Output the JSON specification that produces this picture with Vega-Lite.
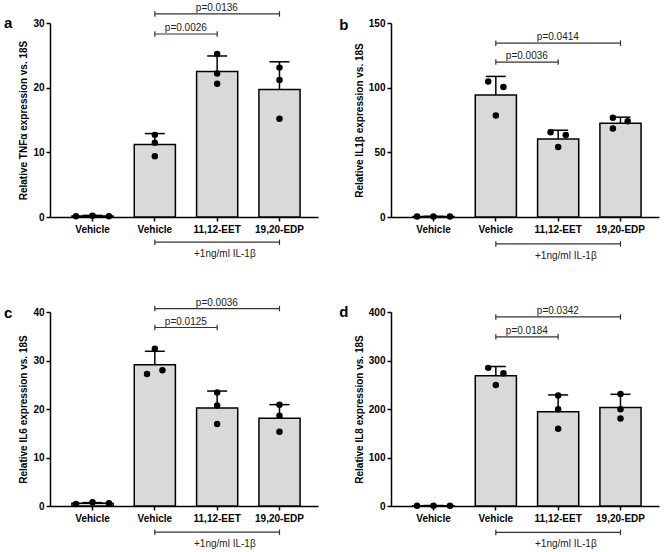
{
  "$schema": "https://vega.github.io/schema/vega-lite/v6.json",
  "padding": {"left": 3, "top": 2, "right": 5, "bottom": 3},
  "background": "white",
  "datasets": {
    "bars": [
      {"panel": "a", "group": "Vehicle", "mean": 0.15, "upper": 0.25},
      {"panel": "a", "group": "Vehicle (IL-1β)", "mean": 11.2, "upper": 12.9},
      {"panel": "a", "group": "11,12-EET", "mean": 22.5, "upper": 24.9},
      {"panel": "a", "group": "19,20-EDP", "mean": 19.7, "upper": 24.0},
      {"panel": "b", "group": "Vehicle", "mean": 0.3, "upper": 0.5},
      {"panel": "b", "group": "Vehicle (IL-1β)", "mean": 94.4, "upper": 108.7},
      {"panel": "b", "group": "11,12-EET", "mean": 60.3, "upper": 67.1},
      {"panel": "b", "group": "19,20-EDP", "mean": 72.5, "upper": 77.2},
      {"panel": "c", "group": "Vehicle", "mean": 0.57, "upper": 0.7},
      {"panel": "c", "group": "Vehicle (IL-1β)", "mean": 29.1, "upper": 31.9},
      {"panel": "c", "group": "11,12-EET", "mean": 20.2, "upper": 23.7},
      {"panel": "c", "group": "19,20-EDP", "mean": 18.1, "upper": 20.9},
      {"panel": "d", "group": "Vehicle", "mean": 0.5, "upper": 1},
      {"panel": "d", "group": "Vehicle (IL-1β)", "mean": 268.5, "upper": 287.6},
      {"panel": "d", "group": "11,12-EET", "mean": 194.2, "upper": 229},
      {"panel": "d", "group": "19,20-EDP", "mean": 203, "upper": 230.3}
    ],
    "dots": [
      {"panel": "a", "group": "Vehicle", "value": 0.1, "jitter": -0.8},
      {"panel": "a", "group": "Vehicle", "value": 0.2, "jitter": 0},
      {"panel": "a", "group": "Vehicle", "value": 0.1, "jitter": 0.8},
      {"panel": "a", "group": "Vehicle (IL-1β)", "value": 12.7, "jitter": 0},
      {"panel": "a", "group": "Vehicle (IL-1β)", "value": 11.5, "jitter": 0},
      {"panel": "a", "group": "Vehicle (IL-1β)", "value": 9.4, "jitter": 0},
      {"panel": "a", "group": "11,12-EET", "value": 25.2, "jitter": 0},
      {"panel": "a", "group": "11,12-EET", "value": 22.2, "jitter": 0},
      {"panel": "a", "group": "11,12-EET", "value": 20.6, "jitter": 0},
      {"panel": "a", "group": "19,20-EDP", "value": 23.1, "jitter": 0},
      {"panel": "a", "group": "19,20-EDP", "value": 21.2, "jitter": 0},
      {"panel": "a", "group": "19,20-EDP", "value": 15.2, "jitter": 0},
      {"panel": "b", "group": "Vehicle", "value": 0.3, "jitter": -0.8},
      {"panel": "b", "group": "Vehicle", "value": 0.3, "jitter": 0},
      {"panel": "b", "group": "Vehicle", "value": 0.3, "jitter": 0.8},
      {"panel": "b", "group": "Vehicle (IL-1β)", "value": 104.8, "jitter": -0.37},
      {"panel": "b", "group": "Vehicle (IL-1β)", "value": 100.6, "jitter": 0.37},
      {"panel": "b", "group": "Vehicle (IL-1β)", "value": 78.5, "jitter": 0},
      {"panel": "b", "group": "11,12-EET", "value": 65.5, "jitter": -0.37},
      {"panel": "b", "group": "11,12-EET", "value": 63.4, "jitter": 0.37},
      {"panel": "b", "group": "11,12-EET", "value": 54.1, "jitter": 0},
      {"panel": "b", "group": "19,20-EDP", "value": 76.7, "jitter": -0.37},
      {"panel": "b", "group": "19,20-EDP", "value": 74.1, "jitter": 0.35},
      {"panel": "b", "group": "19,20-EDP", "value": 68.4, "jitter": -0.37},
      {"panel": "c", "group": "Vehicle", "value": 0.4, "jitter": -0.8},
      {"panel": "c", "group": "Vehicle", "value": 0.76, "jitter": 0},
      {"panel": "c", "group": "Vehicle", "value": 0.55, "jitter": 0.8},
      {"panel": "c", "group": "Vehicle (IL-1β)", "value": 32.4, "jitter": 0},
      {"panel": "c", "group": "Vehicle (IL-1β)", "value": 27.2, "jitter": -0.38},
      {"panel": "c", "group": "Vehicle (IL-1β)", "value": 28.0, "jitter": 0.37},
      {"panel": "c", "group": "11,12-EET", "value": 23.4, "jitter": 0},
      {"panel": "c", "group": "11,12-EET", "value": 20.7, "jitter": 0},
      {"panel": "c", "group": "11,12-EET", "value": 16.9, "jitter": 0},
      {"panel": "c", "group": "19,20-EDP", "value": 20.9, "jitter": 0},
      {"panel": "c", "group": "19,20-EDP", "value": 18.6, "jitter": 0},
      {"panel": "c", "group": "19,20-EDP", "value": 15.3, "jitter": 0},
      {"panel": "d", "group": "Vehicle", "value": 0.5, "jitter": -0.8},
      {"panel": "d", "group": "Vehicle", "value": 0.5, "jitter": 0},
      {"panel": "d", "group": "Vehicle", "value": 0.5, "jitter": 0.8},
      {"panel": "d", "group": "Vehicle (IL-1β)", "value": 284.8, "jitter": -0.37},
      {"panel": "d", "group": "Vehicle (IL-1β)", "value": 273.9, "jitter": 0.37},
      {"panel": "d", "group": "Vehicle (IL-1β)", "value": 249.4, "jitter": 0},
      {"panel": "d", "group": "11,12-EET", "value": 227.6, "jitter": 0},
      {"panel": "d", "group": "11,12-EET", "value": 199.7, "jitter": 0},
      {"panel": "d", "group": "11,12-EET", "value": 159.5, "jitter": 0},
      {"panel": "d", "group": "19,20-EDP", "value": 231.0, "jitter": 0},
      {"panel": "d", "group": "19,20-EDP", "value": 199.7, "jitter": 0},
      {"panel": "d", "group": "19,20-EDP", "value": 180.6, "jitter": 0}
    ],
    "brackets": [
      {"panel": "a", "from": "Vehicle (IL-1β)", "to": "11,12-EET", "y": 28.3, "label": "p=0.0026", "span": 1},
      {"panel": "a", "from": "Vehicle (IL-1β)", "to": "19,20-EDP", "y": 31.4, "label": "p=0.0136", "span": 2},
      {"panel": "a", "from": "Vehicle (IL-1β)", "to": "19,20-EDP", "y": -3.9, "label": "+1ng/ml IL-1β", "span": 0},
      {"panel": "b", "from": "Vehicle (IL-1β)", "to": "11,12-EET", "y": 119.8, "label": "p=0.0036", "span": 1},
      {"panel": "b", "from": "Vehicle (IL-1β)", "to": "19,20-EDP", "y": 134.4, "label": "p=0.0414", "span": 2},
      {"panel": "b", "from": "Vehicle (IL-1β)", "to": "19,20-EDP", "y": -20.8, "label": "+1ng/ml IL-1β", "span": 0},
      {"panel": "c", "from": "Vehicle (IL-1β)", "to": "11,12-EET", "y": 36.8, "label": "p=0.0125", "span": 1},
      {"panel": "c", "from": "Vehicle (IL-1β)", "to": "19,20-EDP", "y": 40.7, "label": "p=0.0036", "span": 2},
      {"panel": "c", "from": "Vehicle (IL-1β)", "to": "19,20-EDP", "y": -5.4, "label": "+1ng/ml IL-1β", "span": 0},
      {"panel": "d", "from": "Vehicle (IL-1β)", "to": "11,12-EET", "y": 348.9, "label": "p=0.0184", "span": 1},
      {"panel": "d", "from": "Vehicle (IL-1β)", "to": "19,20-EDP", "y": 389.8, "label": "p=0.0342", "span": 2},
      {"panel": "d", "from": "Vehicle (IL-1β)", "to": "19,20-EDP", "y": -54.5, "label": "+1ng/ml IL-1β", "span": 0}
    ]
  },
  "columns": 2,
  "spacing": {"column": 21, "row": 36},
  "concat": [
    {
      "width": 268, "height": 194,
      "title": {"text": "a", "offset": -28},
      "resolve": {"scale": {"xOffset": "independent"}},
      "layer": [
        {"data": {"name": "bars"}, "transform": [{"filter": "datum.panel == 'a'"}],
         "mark": {"type": "bar", "fill": "#d9d9d9", "stroke": "black", "strokeWidth": 1.5},
         "encoding": {
           "x": {"field": "group", "type": "nominal", "scale": {"domain": ["Vehicle", "Vehicle (IL-1β)", "11,12-EET", "19,20-EDP"], "paddingInner": 0.34, "paddingOuter": 0.32, "align": 0.55}, "axis": {"title": null, "labelAngle": 0, "labelExpr": "datum.value == 'Vehicle (IL-1β)' ? 'Vehicle' : datum.value"}},
           "y": {"field": "mean", "type": "quantitative", "scale": {"domain": [0, 30], "nice": false}, "axis": {"title": "Relative TNFα expression vs. 18S", "values": [0, 10, 20, 30]}}}},
        {"data": {"name": "bars"}, "transform": [{"filter": "datum.panel == 'a'"}],
         "mark": {"type": "rule", "color": "black", "strokeWidth": 1.5},
         "encoding": {
           "x": {"field": "group", "type": "nominal", "scale": {"domain": ["Vehicle", "Vehicle (IL-1β)", "11,12-EET", "19,20-EDP"], "paddingInner": 0.34, "paddingOuter": 0.32, "align": 0.55}},
           "y": {"field": "mean", "type": "quantitative", "scale": {"domain": [0, 30], "nice": false}},
           "y2": {"field": "upper"}}},
        {"data": {"name": "bars"}, "transform": [{"filter": "datum.panel == 'a'"}],
         "mark": {"type": "tick", "orient": "horizontal", "size": 20, "thickness": 1.5, "color": "black", "opacity": 1},
         "encoding": {
           "x": {"field": "group", "type": "nominal", "scale": {"domain": ["Vehicle", "Vehicle (IL-1β)", "11,12-EET", "19,20-EDP"], "paddingInner": 0.34, "paddingOuter": 0.32, "align": 0.55}},
           "y": {"field": "upper", "type": "quantitative", "scale": {"domain": [0, 30], "nice": false}}}},
        {"data": {"name": "dots"}, "transform": [{"filter": "datum.panel == 'a'"}],
         "mark": {"type": "circle", "size": 42, "color": "black", "opacity": 1},
         "encoding": {
           "x": {"field": "group", "type": "nominal", "scale": {"domain": ["Vehicle", "Vehicle (IL-1β)", "11,12-EET", "19,20-EDP"], "paddingInner": 0.34, "paddingOuter": 0.32, "align": 0.55}},
           "xOffset": {"field": "jitter", "type": "quantitative", "scale": {"domain": [-1, 1]}},
           "y": {"field": "value", "type": "quantitative", "scale": {"domain": [0, 30], "nice": false}}}},
        {"data": {"name": "brackets"}, "transform": [{"filter": "datum.panel == 'a'"}],
         "mark": {"type": "rule", "color": "#333333", "strokeWidth": 1.2},
         "encoding": {
           "x": {"field": "from", "type": "nominal", "scale": {"domain": ["Vehicle", "Vehicle (IL-1β)", "11,12-EET", "19,20-EDP"], "paddingInner": 0.34, "paddingOuter": 0.32, "align": 0.55}},
           "x2": {"field": "to"},
           "y": {"field": "y", "type": "quantitative", "scale": {"domain": [0, 30], "nice": false}}}},
        {"data": {"name": "brackets"}, "transform": [{"filter": "datum.panel == 'a'"}],
         "mark": {"type": "point", "shape": "M0,-1L0,1", "size": 30, "filled": false, "color": "#333333", "strokeWidth": 1.2, "opacity": 1},
         "encoding": {
           "x": {"field": "from", "type": "nominal", "scale": {"domain": ["Vehicle", "Vehicle (IL-1β)", "11,12-EET", "19,20-EDP"], "paddingInner": 0.34, "paddingOuter": 0.32, "align": 0.55}},
           "y": {"field": "y", "type": "quantitative", "scale": {"domain": [0, 30], "nice": false}}}},
        {"data": {"name": "brackets"}, "transform": [{"filter": "datum.panel == 'a'"}],
         "mark": {"type": "point", "shape": "M0,-1L0,1", "size": 30, "filled": false, "color": "#333333", "strokeWidth": 1.2, "opacity": 1},
         "encoding": {
           "x": {"field": "to", "type": "nominal", "scale": {"domain": ["Vehicle", "Vehicle (IL-1β)", "11,12-EET", "19,20-EDP"], "paddingInner": 0.34, "paddingOuter": 0.32, "align": 0.55}},
           "y": {"field": "y", "type": "quantitative", "scale": {"domain": [0, 30], "nice": false}}}},
        {"data": {"name": "brackets"}, "transform": [{"filter": "datum.panel == 'a' && datum.span == 1"}],
         "mark": {"type": "text", "baseline": "bottom", "dy": -1, "dx": 31, "fontSize": 10, "color": "#222222"},
         "encoding": {
           "x": {"field": "from", "type": "nominal", "scale": {"domain": ["Vehicle", "Vehicle (IL-1β)", "11,12-EET", "19,20-EDP"], "paddingInner": 0.34, "paddingOuter": 0.32, "align": 0.55}},
           "y": {"field": "y", "type": "quantitative", "scale": {"domain": [0, 30], "nice": false}},
           "text": {"field": "label"}}},
        {"data": {"name": "brackets"}, "transform": [{"filter": "datum.panel == 'a' && datum.span == 2"}],
         "mark": {"type": "text", "baseline": "bottom", "dy": -1, "dx": 62, "fontSize": 10, "color": "#222222"},
         "encoding": {
           "x": {"field": "from", "type": "nominal", "scale": {"domain": ["Vehicle", "Vehicle (IL-1β)", "11,12-EET", "19,20-EDP"], "paddingInner": 0.34, "paddingOuter": 0.32, "align": 0.55}},
           "y": {"field": "y", "type": "quantitative", "scale": {"domain": [0, 30], "nice": false}},
           "text": {"field": "label"}}},
        {"data": {"name": "brackets"}, "transform": [{"filter": "datum.panel == 'a' && datum.span == 0"}],
         "mark": {"type": "text", "baseline": "top", "dy": 7, "dx": 70, "fontSize": 10, "color": "#222222"},
         "encoding": {
           "x": {"field": "from", "type": "nominal", "scale": {"domain": ["Vehicle", "Vehicle (IL-1β)", "11,12-EET", "19,20-EDP"], "paddingInner": 0.34, "paddingOuter": 0.32, "align": 0.55}},
           "y": {"field": "y", "type": "quantitative", "scale": {"domain": [0, 30], "nice": false}},
           "text": {"field": "label"}}}
      ]
    },
    {
      "width": 268, "height": 194,
      "title": {"text": "b", "offset": -15},
      "resolve": {"scale": {"xOffset": "independent"}},
      "layer": [
        {"data": {"name": "bars"}, "transform": [{"filter": "datum.panel == 'b'"}],
         "mark": {"type": "bar", "fill": "#d9d9d9", "stroke": "black", "strokeWidth": 1.5},
         "encoding": {
           "x": {"field": "group", "type": "nominal", "scale": {"domain": ["Vehicle", "Vehicle (IL-1β)", "11,12-EET", "19,20-EDP"], "paddingInner": 0.34, "paddingOuter": 0.32, "align": 0.55}, "axis": {"title": null, "labelAngle": 0, "labelExpr": "datum.value == 'Vehicle (IL-1β)' ? 'Vehicle' : datum.value"}},
           "y": {"field": "mean", "type": "quantitative", "scale": {"domain": [0, 150], "nice": false}, "axis": {"title": "Relative IL1β expression vs. 18S", "values": [0, 50, 100, 150]}}}},
        {"data": {"name": "bars"}, "transform": [{"filter": "datum.panel == 'b'"}],
         "mark": {"type": "rule", "color": "black", "strokeWidth": 1.5},
         "encoding": {
           "x": {"field": "group", "type": "nominal", "scale": {"domain": ["Vehicle", "Vehicle (IL-1β)", "11,12-EET", "19,20-EDP"], "paddingInner": 0.34, "paddingOuter": 0.32, "align": 0.55}},
           "y": {"field": "mean", "type": "quantitative", "scale": {"domain": [0, 150], "nice": false}},
           "y2": {"field": "upper"}}},
        {"data": {"name": "bars"}, "transform": [{"filter": "datum.panel == 'b'"}],
         "mark": {"type": "tick", "orient": "horizontal", "size": 20, "thickness": 1.5, "color": "black", "opacity": 1},
         "encoding": {
           "x": {"field": "group", "type": "nominal", "scale": {"domain": ["Vehicle", "Vehicle (IL-1β)", "11,12-EET", "19,20-EDP"], "paddingInner": 0.34, "paddingOuter": 0.32, "align": 0.55}},
           "y": {"field": "upper", "type": "quantitative", "scale": {"domain": [0, 150], "nice": false}}}},
        {"data": {"name": "dots"}, "transform": [{"filter": "datum.panel == 'b'"}],
         "mark": {"type": "circle", "size": 42, "color": "black", "opacity": 1},
         "encoding": {
           "x": {"field": "group", "type": "nominal", "scale": {"domain": ["Vehicle", "Vehicle (IL-1β)", "11,12-EET", "19,20-EDP"], "paddingInner": 0.34, "paddingOuter": 0.32, "align": 0.55}},
           "xOffset": {"field": "jitter", "type": "quantitative", "scale": {"domain": [-1, 1]}},
           "y": {"field": "value", "type": "quantitative", "scale": {"domain": [0, 150], "nice": false}}}},
        {"data": {"name": "brackets"}, "transform": [{"filter": "datum.panel == 'b'"}],
         "mark": {"type": "rule", "color": "#333333", "strokeWidth": 1.2},
         "encoding": {
           "x": {"field": "from", "type": "nominal", "scale": {"domain": ["Vehicle", "Vehicle (IL-1β)", "11,12-EET", "19,20-EDP"], "paddingInner": 0.34, "paddingOuter": 0.32, "align": 0.55}},
           "x2": {"field": "to"},
           "y": {"field": "y", "type": "quantitative", "scale": {"domain": [0, 150], "nice": false}}}},
        {"data": {"name": "brackets"}, "transform": [{"filter": "datum.panel == 'b'"}],
         "mark": {"type": "point", "shape": "M0,-1L0,1", "size": 30, "filled": false, "color": "#333333", "strokeWidth": 1.2, "opacity": 1},
         "encoding": {
           "x": {"field": "from", "type": "nominal", "scale": {"domain": ["Vehicle", "Vehicle (IL-1β)", "11,12-EET", "19,20-EDP"], "paddingInner": 0.34, "paddingOuter": 0.32, "align": 0.55}},
           "y": {"field": "y", "type": "quantitative", "scale": {"domain": [0, 150], "nice": false}}}},
        {"data": {"name": "brackets"}, "transform": [{"filter": "datum.panel == 'b'"}],
         "mark": {"type": "point", "shape": "M0,-1L0,1", "size": 30, "filled": false, "color": "#333333", "strokeWidth": 1.2, "opacity": 1},
         "encoding": {
           "x": {"field": "to", "type": "nominal", "scale": {"domain": ["Vehicle", "Vehicle (IL-1β)", "11,12-EET", "19,20-EDP"], "paddingInner": 0.34, "paddingOuter": 0.32, "align": 0.55}},
           "y": {"field": "y", "type": "quantitative", "scale": {"domain": [0, 150], "nice": false}}}},
        {"data": {"name": "brackets"}, "transform": [{"filter": "datum.panel == 'b' && datum.span == 1"}],
         "mark": {"type": "text", "baseline": "bottom", "dy": -1, "dx": 31, "fontSize": 10, "color": "#222222"},
         "encoding": {
           "x": {"field": "from", "type": "nominal", "scale": {"domain": ["Vehicle", "Vehicle (IL-1β)", "11,12-EET", "19,20-EDP"], "paddingInner": 0.34, "paddingOuter": 0.32, "align": 0.55}},
           "y": {"field": "y", "type": "quantitative", "scale": {"domain": [0, 150], "nice": false}},
           "text": {"field": "label"}}},
        {"data": {"name": "brackets"}, "transform": [{"filter": "datum.panel == 'b' && datum.span == 2"}],
         "mark": {"type": "text", "baseline": "bottom", "dy": -1, "dx": 62, "fontSize": 10, "color": "#222222"},
         "encoding": {
           "x": {"field": "from", "type": "nominal", "scale": {"domain": ["Vehicle", "Vehicle (IL-1β)", "11,12-EET", "19,20-EDP"], "paddingInner": 0.34, "paddingOuter": 0.32, "align": 0.55}},
           "y": {"field": "y", "type": "quantitative", "scale": {"domain": [0, 150], "nice": false}},
           "text": {"field": "label"}}},
        {"data": {"name": "brackets"}, "transform": [{"filter": "datum.panel == 'b' && datum.span == 0"}],
         "mark": {"type": "text", "baseline": "top", "dy": 7, "dx": 70, "fontSize": 10, "color": "#222222"},
         "encoding": {
           "x": {"field": "from", "type": "nominal", "scale": {"domain": ["Vehicle", "Vehicle (IL-1β)", "11,12-EET", "19,20-EDP"], "paddingInner": 0.34, "paddingOuter": 0.32, "align": 0.55}},
           "y": {"field": "y", "type": "quantitative", "scale": {"domain": [0, 150], "nice": false}},
           "text": {"field": "label"}}}
      ]
    },
    {
      "width": 268, "height": 194,
      "title": {"text": "c", "offset": -23},
      "resolve": {"scale": {"xOffset": "independent"}},
      "layer": [
        {"data": {"name": "bars"}, "transform": [{"filter": "datum.panel == 'c'"}],
         "mark": {"type": "bar", "fill": "#d9d9d9", "stroke": "black", "strokeWidth": 1.5},
         "encoding": {
           "x": {"field": "group", "type": "nominal", "scale": {"domain": ["Vehicle", "Vehicle (IL-1β)", "11,12-EET", "19,20-EDP"], "paddingInner": 0.34, "paddingOuter": 0.32, "align": 0.55}, "axis": {"title": null, "labelAngle": 0, "labelExpr": "datum.value == 'Vehicle (IL-1β)' ? 'Vehicle' : datum.value"}},
           "y": {"field": "mean", "type": "quantitative", "scale": {"domain": [0, 40], "nice": false}, "axis": {"title": "Relative IL6 expression vs. 18S", "values": [0, 10, 20, 30, 40]}}}},
        {"data": {"name": "bars"}, "transform": [{"filter": "datum.panel == 'c'"}],
         "mark": {"type": "rule", "color": "black", "strokeWidth": 1.5},
         "encoding": {
           "x": {"field": "group", "type": "nominal", "scale": {"domain": ["Vehicle", "Vehicle (IL-1β)", "11,12-EET", "19,20-EDP"], "paddingInner": 0.34, "paddingOuter": 0.32, "align": 0.55}},
           "y": {"field": "mean", "type": "quantitative", "scale": {"domain": [0, 40], "nice": false}},
           "y2": {"field": "upper"}}},
        {"data": {"name": "bars"}, "transform": [{"filter": "datum.panel == 'c'"}],
         "mark": {"type": "tick", "orient": "horizontal", "size": 20, "thickness": 1.5, "color": "black", "opacity": 1},
         "encoding": {
           "x": {"field": "group", "type": "nominal", "scale": {"domain": ["Vehicle", "Vehicle (IL-1β)", "11,12-EET", "19,20-EDP"], "paddingInner": 0.34, "paddingOuter": 0.32, "align": 0.55}},
           "y": {"field": "upper", "type": "quantitative", "scale": {"domain": [0, 40], "nice": false}}}},
        {"data": {"name": "dots"}, "transform": [{"filter": "datum.panel == 'c'"}],
         "mark": {"type": "circle", "size": 42, "color": "black", "opacity": 1},
         "encoding": {
           "x": {"field": "group", "type": "nominal", "scale": {"domain": ["Vehicle", "Vehicle (IL-1β)", "11,12-EET", "19,20-EDP"], "paddingInner": 0.34, "paddingOuter": 0.32, "align": 0.55}},
           "xOffset": {"field": "jitter", "type": "quantitative", "scale": {"domain": [-1, 1]}},
           "y": {"field": "value", "type": "quantitative", "scale": {"domain": [0, 40], "nice": false}}}},
        {"data": {"name": "brackets"}, "transform": [{"filter": "datum.panel == 'c'"}],
         "mark": {"type": "rule", "color": "#333333", "strokeWidth": 1.2},
         "encoding": {
           "x": {"field": "from", "type": "nominal", "scale": {"domain": ["Vehicle", "Vehicle (IL-1β)", "11,12-EET", "19,20-EDP"], "paddingInner": 0.34, "paddingOuter": 0.32, "align": 0.55}},
           "x2": {"field": "to"},
           "y": {"field": "y", "type": "quantitative", "scale": {"domain": [0, 40], "nice": false}}}},
        {"data": {"name": "brackets"}, "transform": [{"filter": "datum.panel == 'c'"}],
         "mark": {"type": "point", "shape": "M0,-1L0,1", "size": 30, "filled": false, "color": "#333333", "strokeWidth": 1.2, "opacity": 1},
         "encoding": {
           "x": {"field": "from", "type": "nominal", "scale": {"domain": ["Vehicle", "Vehicle (IL-1β)", "11,12-EET", "19,20-EDP"], "paddingInner": 0.34, "paddingOuter": 0.32, "align": 0.55}},
           "y": {"field": "y", "type": "quantitative", "scale": {"domain": [0, 40], "nice": false}}}},
        {"data": {"name": "brackets"}, "transform": [{"filter": "datum.panel == 'c'"}],
         "mark": {"type": "point", "shape": "M0,-1L0,1", "size": 30, "filled": false, "color": "#333333", "strokeWidth": 1.2, "opacity": 1},
         "encoding": {
           "x": {"field": "to", "type": "nominal", "scale": {"domain": ["Vehicle", "Vehicle (IL-1β)", "11,12-EET", "19,20-EDP"], "paddingInner": 0.34, "paddingOuter": 0.32, "align": 0.55}},
           "y": {"field": "y", "type": "quantitative", "scale": {"domain": [0, 40], "nice": false}}}},
        {"data": {"name": "brackets"}, "transform": [{"filter": "datum.panel == 'c' && datum.span == 1"}],
         "mark": {"type": "text", "baseline": "bottom", "dy": -1, "dx": 31, "fontSize": 10, "color": "#222222"},
         "encoding": {
           "x": {"field": "from", "type": "nominal", "scale": {"domain": ["Vehicle", "Vehicle (IL-1β)", "11,12-EET", "19,20-EDP"], "paddingInner": 0.34, "paddingOuter": 0.32, "align": 0.55}},
           "y": {"field": "y", "type": "quantitative", "scale": {"domain": [0, 40], "nice": false}},
           "text": {"field": "label"}}},
        {"data": {"name": "brackets"}, "transform": [{"filter": "datum.panel == 'c' && datum.span == 2"}],
         "mark": {"type": "text", "baseline": "bottom", "dy": -1, "dx": 62, "fontSize": 10, "color": "#222222"},
         "encoding": {
           "x": {"field": "from", "type": "nominal", "scale": {"domain": ["Vehicle", "Vehicle (IL-1β)", "11,12-EET", "19,20-EDP"], "paddingInner": 0.34, "paddingOuter": 0.32, "align": 0.55}},
           "y": {"field": "y", "type": "quantitative", "scale": {"domain": [0, 40], "nice": false}},
           "text": {"field": "label"}}},
        {"data": {"name": "brackets"}, "transform": [{"filter": "datum.panel == 'c' && datum.span == 0"}],
         "mark": {"type": "text", "baseline": "top", "dy": 7, "dx": 70, "fontSize": 10, "color": "#222222"},
         "encoding": {
           "x": {"field": "from", "type": "nominal", "scale": {"domain": ["Vehicle", "Vehicle (IL-1β)", "11,12-EET", "19,20-EDP"], "paddingInner": 0.34, "paddingOuter": 0.32, "align": 0.55}},
           "y": {"field": "y", "type": "quantitative", "scale": {"domain": [0, 40], "nice": false}},
           "text": {"field": "label"}}}
      ]
    },
    {
      "width": 268, "height": 194,
      "title": {"text": "d", "offset": -14},
      "resolve": {"scale": {"xOffset": "independent"}},
      "layer": [
        {"data": {"name": "bars"}, "transform": [{"filter": "datum.panel == 'd'"}],
         "mark": {"type": "bar", "fill": "#d9d9d9", "stroke": "black", "strokeWidth": 1.5},
         "encoding": {
           "x": {"field": "group", "type": "nominal", "scale": {"domain": ["Vehicle", "Vehicle (IL-1β)", "11,12-EET", "19,20-EDP"], "paddingInner": 0.34, "paddingOuter": 0.32, "align": 0.55}, "axis": {"title": null, "labelAngle": 0, "labelExpr": "datum.value == 'Vehicle (IL-1β)' ? 'Vehicle' : datum.value"}},
           "y": {"field": "mean", "type": "quantitative", "scale": {"domain": [0, 400], "nice": false}, "axis": {"title": "Relative IL8 expression vs. 18S", "values": [0, 100, 200, 300, 400]}}}},
        {"data": {"name": "bars"}, "transform": [{"filter": "datum.panel == 'd'"}],
         "mark": {"type": "rule", "color": "black", "strokeWidth": 1.5},
         "encoding": {
           "x": {"field": "group", "type": "nominal", "scale": {"domain": ["Vehicle", "Vehicle (IL-1β)", "11,12-EET", "19,20-EDP"], "paddingInner": 0.34, "paddingOuter": 0.32, "align": 0.55}},
           "y": {"field": "mean", "type": "quantitative", "scale": {"domain": [0, 400], "nice": false}},
           "y2": {"field": "upper"}}},
        {"data": {"name": "bars"}, "transform": [{"filter": "datum.panel == 'd'"}],
         "mark": {"type": "tick", "orient": "horizontal", "size": 20, "thickness": 1.5, "color": "black", "opacity": 1},
         "encoding": {
           "x": {"field": "group", "type": "nominal", "scale": {"domain": ["Vehicle", "Vehicle (IL-1β)", "11,12-EET", "19,20-EDP"], "paddingInner": 0.34, "paddingOuter": 0.32, "align": 0.55}},
           "y": {"field": "upper", "type": "quantitative", "scale": {"domain": [0, 400], "nice": false}}}},
        {"data": {"name": "dots"}, "transform": [{"filter": "datum.panel == 'd'"}],
         "mark": {"type": "circle", "size": 42, "color": "black", "opacity": 1},
         "encoding": {
           "x": {"field": "group", "type": "nominal", "scale": {"domain": ["Vehicle", "Vehicle (IL-1β)", "11,12-EET", "19,20-EDP"], "paddingInner": 0.34, "paddingOuter": 0.32, "align": 0.55}},
           "xOffset": {"field": "jitter", "type": "quantitative", "scale": {"domain": [-1, 1]}},
           "y": {"field": "value", "type": "quantitative", "scale": {"domain": [0, 400], "nice": false}}}},
        {"data": {"name": "brackets"}, "transform": [{"filter": "datum.panel == 'd'"}],
         "mark": {"type": "rule", "color": "#333333", "strokeWidth": 1.2},
         "encoding": {
           "x": {"field": "from", "type": "nominal", "scale": {"domain": ["Vehicle", "Vehicle (IL-1β)", "11,12-EET", "19,20-EDP"], "paddingInner": 0.34, "paddingOuter": 0.32, "align": 0.55}},
           "x2": {"field": "to"},
           "y": {"field": "y", "type": "quantitative", "scale": {"domain": [0, 400], "nice": false}}}},
        {"data": {"name": "brackets"}, "transform": [{"filter": "datum.panel == 'd'"}],
         "mark": {"type": "point", "shape": "M0,-1L0,1", "size": 30, "filled": false, "color": "#333333", "strokeWidth": 1.2, "opacity": 1},
         "encoding": {
           "x": {"field": "from", "type": "nominal", "scale": {"domain": ["Vehicle", "Vehicle (IL-1β)", "11,12-EET", "19,20-EDP"], "paddingInner": 0.34, "paddingOuter": 0.32, "align": 0.55}},
           "y": {"field": "y", "type": "quantitative", "scale": {"domain": [0, 400], "nice": false}}}},
        {"data": {"name": "brackets"}, "transform": [{"filter": "datum.panel == 'd'"}],
         "mark": {"type": "point", "shape": "M0,-1L0,1", "size": 30, "filled": false, "color": "#333333", "strokeWidth": 1.2, "opacity": 1},
         "encoding": {
           "x": {"field": "to", "type": "nominal", "scale": {"domain": ["Vehicle", "Vehicle (IL-1β)", "11,12-EET", "19,20-EDP"], "paddingInner": 0.34, "paddingOuter": 0.32, "align": 0.55}},
           "y": {"field": "y", "type": "quantitative", "scale": {"domain": [0, 400], "nice": false}}}},
        {"data": {"name": "brackets"}, "transform": [{"filter": "datum.panel == 'd' && datum.span == 1"}],
         "mark": {"type": "text", "baseline": "bottom", "dy": -1, "dx": 31, "fontSize": 10, "color": "#222222"},
         "encoding": {
           "x": {"field": "from", "type": "nominal", "scale": {"domain": ["Vehicle", "Vehicle (IL-1β)", "11,12-EET", "19,20-EDP"], "paddingInner": 0.34, "paddingOuter": 0.32, "align": 0.55}},
           "y": {"field": "y", "type": "quantitative", "scale": {"domain": [0, 400], "nice": false}},
           "text": {"field": "label"}}},
        {"data": {"name": "brackets"}, "transform": [{"filter": "datum.panel == 'd' && datum.span == 2"}],
         "mark": {"type": "text", "baseline": "bottom", "dy": -1, "dx": 62, "fontSize": 10, "color": "#222222"},
         "encoding": {
           "x": {"field": "from", "type": "nominal", "scale": {"domain": ["Vehicle", "Vehicle (IL-1β)", "11,12-EET", "19,20-EDP"], "paddingInner": 0.34, "paddingOuter": 0.32, "align": 0.55}},
           "y": {"field": "y", "type": "quantitative", "scale": {"domain": [0, 400], "nice": false}},
           "text": {"field": "label"}}},
        {"data": {"name": "brackets"}, "transform": [{"filter": "datum.panel == 'd' && datum.span == 0"}],
         "mark": {"type": "text", "baseline": "top", "dy": 7, "dx": 70, "fontSize": 10, "color": "#222222"},
         "encoding": {
           "x": {"field": "from", "type": "nominal", "scale": {"domain": ["Vehicle", "Vehicle (IL-1β)", "11,12-EET", "19,20-EDP"], "paddingInner": 0.34, "paddingOuter": 0.32, "align": 0.55}},
           "y": {"field": "y", "type": "quantitative", "scale": {"domain": [0, 400], "nice": false}},
           "text": {"field": "label"}}}
      ]
    }
  ],
  "config": {
    "font": "Liberation Sans",
    "view": {"stroke": null},
    "axis": {
      "grid": false,
      "domainColor": "black", "domainWidth": 1.5,
      "tickColor": "black", "tickWidth": 1.5, "tickSize": 4,
      "labelFont": "Liberation Sans", "labelFontWeight": "bold", "labelFontSize": 10, "labelColor": "black", "labelPadding": 2,
      "titleFont": "Liberation Sans", "titleFontWeight": "bold", "titleFontSize": 10, "titleColor": "black", "titlePadding": 4
    },
    "axisX": {"labelPadding": 3},
    "title": {"font": "Liberation Sans", "fontSize": 15, "fontWeight": "bold", "color": "black", "anchor": "start", "frame": "bounds", "dx": -15}
  }
}
